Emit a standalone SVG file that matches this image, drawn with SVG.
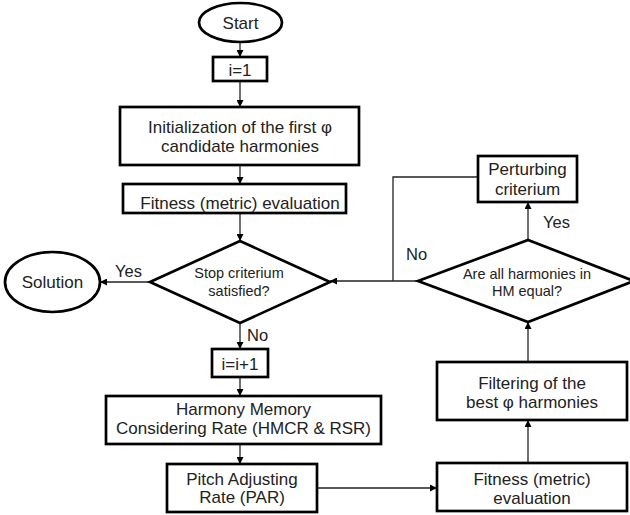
<svg xmlns="http://www.w3.org/2000/svg" width="630" height="515" viewBox="0 0 630 515">
<style>
.box{fill:#fff;stroke:#000;stroke-width:2.7}
.t{font-family:"Liberation Sans",Arial,sans-serif;font-size:17px;fill:#222;text-anchor:middle}
.d{font-family:"Liberation Sans",Arial,sans-serif;font-size:14.5px;fill:#222;text-anchor:middle}
.lbl{font-family:"Liberation Sans",Arial,sans-serif;font-size:16.5px;fill:#222}
.c{fill:none;stroke:#222;stroke-width:1.3}
</style>
<defs>
<marker id="ah" viewBox="0 0 10 10" refX="10" refY="5" markerWidth="7" markerHeight="7" markerUnits="userSpaceOnUse" orient="auto">
<path d="M0,0 L10,5 L0,10 z" fill="#000"/>
</marker>
</defs>
<rect width="630" height="515" fill="#fff"/>
<g id="connectors">
<line class="c" x1="240" y1="42" x2="240" y2="57" marker-end="url(#ah)"/>
<line class="c" x1="240" y1="81" x2="240" y2="107" marker-end="url(#ah)"/>
<line class="c" x1="240" y1="165" x2="240" y2="184" marker-end="url(#ah)"/>
<line class="c" x1="240" y1="213" x2="240" y2="241" marker-end="url(#ah)"/>
<line class="c" x1="150" y1="282" x2="100" y2="282" marker-end="url(#ah)"/>
<line class="c" x1="240" y1="323" x2="240" y2="349" marker-end="url(#ah)"/>
<line class="c" x1="240" y1="377" x2="240" y2="396" marker-end="url(#ah)"/>
<line class="c" x1="240" y1="444" x2="240" y2="464" marker-end="url(#ah)"/>
<line class="c" x1="317" y1="488" x2="437" y2="488" marker-end="url(#ah)"/>
<line class="c" x1="528" y1="463" x2="528" y2="420" marker-end="url(#ah)"/>
<line class="c" x1="528" y1="362" x2="528" y2="322" marker-end="url(#ah)"/>
<line class="c" x1="528" y1="240" x2="528" y2="202" marker-end="url(#ah)"/>
<polyline class="c" points="478,177 393,177 393,281"/>
<line class="c" x1="418" y1="281" x2="330" y2="281" marker-end="url(#ah)"/>
<text class="lbl" x="115" y="277">Yes</text>
<text class="lbl" x="247" y="341">No</text>
<text class="lbl" x="543" y="228">Yes</text>
<text class="lbl" x="406" y="260">No</text>
</g>
<g id="start">
<ellipse class="box" cx="240.5" cy="22.5" rx="41.5" ry="19.5"/>
<text class="t" x="240.5" y="28.5">Start</text>
</g>
<g id="i1">
<rect class="box" x="213" y="57" width="54" height="24"/>
<text class="t" x="240" y="75.5">i=1</text>
</g>
<g id="init">
<rect class="box" x="120" y="107" width="239" height="58"/>
<text class="t" x="240" y="132.5">Initialization of the first φ</text>
<text class="t" x="240" y="151.5">candidate harmonies</text>
</g>
<g id="fitness1">
<rect class="box" x="123" y="184" width="223" height="29"/>
<text class="t" x="240" y="209">Fitness (metric) evaluation</text>
</g>
<g id="stop">
<polygon class="box" points="150,282 240,241 330,282 240,323"/>
<text class="d" x="239" y="278">Stop criterium</text>
<text class="d" x="239" y="296">satisfied?</text>
</g>
<g id="solution">
<ellipse class="box" cx="52.5" cy="282" rx="47.5" ry="30"/>
<text class="t" x="52.5" y="288">Solution</text>
</g>
<g id="iinc">
<rect class="box" x="212" y="349" width="56" height="28"/>
<text class="t" x="240" y="369.5">i=i+1</text>
</g>
<g id="hmcr">
<rect class="box" x="106" y="396" width="275" height="48"/>
<text class="t" x="243.5" y="415">Harmony Memory</text>
<text class="t" x="243.5" y="434">Considering Rate (HMCR &amp; RSR)</text>
</g>
<g id="par">
<rect class="box" x="167" y="464" width="150" height="48"/>
<text class="t" x="242" y="485">Pitch Adjusting</text>
<text class="t" x="242" y="503">Rate (PAR)</text>
</g>
<g id="fitness2">
<rect class="box" x="437" y="463" width="190" height="48"/>
<text class="t" x="532" y="484.5">Fitness (metric)</text>
<text class="t" x="532" y="503.5">evaluation</text>
</g>
<g id="filter">
<rect class="box" x="437" y="362" width="190" height="58"/>
<text class="t" x="532" y="388.5">Filtering of the</text>
<text class="t" x="532" y="407.5">best φ harmonies</text>
</g>
<g id="equal">
<polygon class="box" points="418,281 528,240 634,281 528,322"/>
<text class="d" x="527" y="279">Are all harmonies in</text>
<text class="d" x="527" y="296">HM equal?</text>
</g>
<g id="perturb">
<rect class="box" x="478" y="156" width="99" height="46"/>
<text class="t" x="527.5" y="174.5">Perturbing</text>
<text class="t" x="527.5" y="195">criterium</text>
</g>
</svg>
